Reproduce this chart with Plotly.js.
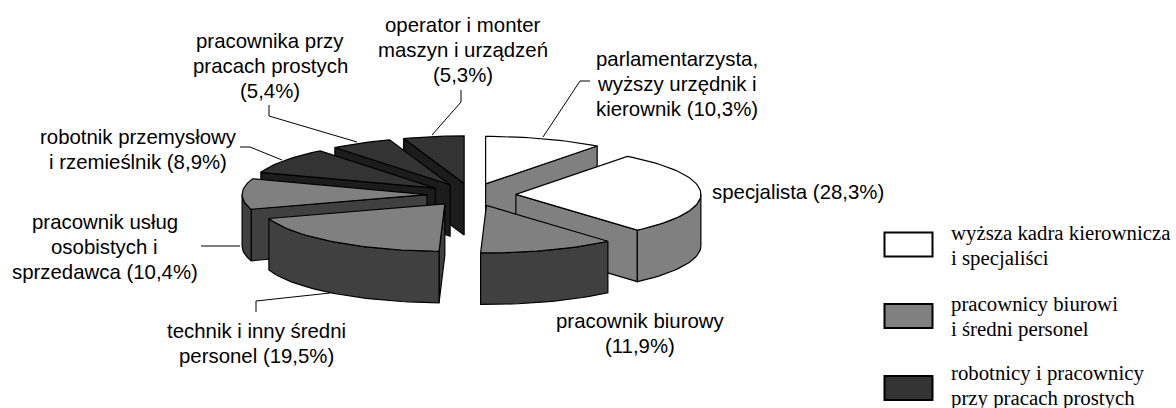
<!DOCTYPE html>
<html><head><meta charset="utf-8">
<script src="https://cdn.plot.ly/plotly-3.0.1.min.js"></script>
<style>html,body{margin:0;padding:0;background:#fff}#c{width:1176px;height:408px}</style>
</head><body><div id="c"></div>
<script>
// Data
const categories = ["parlamentarzysta, wyższy urzędnik i kierownik","specjalista","pracownik biurowy","technik i inny średni personel","pracownik usług osobistych i sprzedawca","robotnik przemysłowy i rzemieślnik","pracownika przy pracach prostych","operator i monter maszyn i urządzeń"];
const shares = [10.3,28.3,11.9,19.5,10.4,8.9,5.4,5.3];
const topColors  = ["#ffffff","#ffffff","#808080","#808080","#808080","#333333","#333333","#333333"];
const wallColors = ["#808080","#808080","#404040","#404040","#404040","#1c1c1c","#1c1c1c","#1c1c1c"];
const drawOrder = [7,6,5,4,3,0,1,2];
const labelLines = [["parlamentarzysta,","wyższy urzędnik i","kierownik (10,3%)"],["specjalista (28,3%)"],["pracownik biurowy","(11,9%)"],["technik i inny średni","personel (19,5%)"],["pracownik usług","osobistych i","sprzedawca (10,4%)"],["robotnik przemysłowy","i rzemieślnik (8,9%)"],["pracownika przy","pracach prostych","(5,4%)"],["operator i monter","maszyn i urządzeń","(5,3%)"]];
const labelX = [676.5,798,640,256.5,104.5,138,270,462.5];
const labelY = [84,192,333,343,247,149.5,65.5,49.5];
const leaderX = [[543,580,590],null,null,[256,256,330],[201,240],[240,250,282],[269,269,357],[461,461,432]];
const leaderY = [[137,81,81],null,null,[312,301,293],[246,246],[147,147,160],[105,116,142],[90,102,135]];
const legendLines = [["wyższa kadra kierownicza","i specjaliści"],["pracownicy biurowi","i średni personel"],["robotnicy i pracownicy","przy pracach prostych"]];
const legendColors = ["#ffffff","#808080","#333333"];
const legendY = [245,316,385];
const swatchY = [244.5,316,388];

// Pie projection
const cx=471.5, cy=194.7, a=185, b=47.5, depth=51.5, explode=0.24;
const px=(o,d)=>o.x+a*Math.sin(d*Math.PI/180);
const py=(o,d,h)=>o.y-b*Math.cos(d*Math.PI/180)+(h||0);
function arc(o,d0,d1,h){const xs=[],ys=[],n=Math.max(2,Math.ceil(Math.abs(d1-d0)/2));
  for(let i=0;i<=n;i++){const d=d0+(d1-d0)*i/n;xs.push(px(o,d));ys.push(py(o,d,h));}return [xs,ys];}
function poly(xs,ys,fill){return {type:'scatter',mode:'lines',x:xs.concat(xs[0]),y:ys.concat(ys[0]),fill:'toself',fillcolor:fill,line:{color:'#000',width:1.2},hoverinfo:'skip',showlegend:false};}

let start=0; const slices=shares.map(s=>{const d0=start,d1=start+s*3.6;start=d1;
  const m=(d0+d1)/2*Math.PI/180;
  return {d0,d1,o:{x:cx+explode*a*Math.sin(m),y:cy-explode*b*Math.cos(m)}};});

const traces=[];
drawOrder.forEach(i=>{const {d0,d1,o}=slices[i];
  const wall=wallColors[i];
  // radial walls that face the viewer
  const vis=[]; if(d0>180&&d0<360)vis.push(d0); if(d1>0&&d1<180)vis.push(d1);
  vis.forEach(d=>{
    traces.push(poly([o.x,px(o,d),px(o,d),o.x],[o.y,py(o,d),py(o,d,depth),o.y+depth],wall));
  });
  // outer wall: visible part of the rim
  const w0=Math.max(d0,90),w1=Math.min(d1,270);
  if(w1>w0){const [tx,ty]=arc(o,w0,w1,0),[bx,by]=arc(o,w1,w0,depth);
    traces.push(poly(tx.concat(bx),ty.concat(by),wall));}
  // top
  const [ax,ay]=arc(o,d0,d1,0);
  traces.push(poly([o.x].concat(ax),[o.y].concat(ay),topColors[i]));
});
leaderX.forEach((lx,i)=>{if(lx)traces.push({type:'scatter',mode:'lines',x:lx,y:leaderY[i],line:{color:'#000',width:1},hoverinfo:'skip',showlegend:false});});

const annotations=[];
labelLines.forEach((lines,i)=>lines.forEach((t,j)=>annotations.push({xref:'x',yref:'y',x:labelX[i],y:labelY[i]+(j-(lines.length-1)/2)*25,text:t,showarrow:false,xanchor:'center',yanchor:'middle',font:{family:'"Liberation Sans",Arial,sans-serif',size:20.4,color:'#000'}})));
legendLines.forEach((lines,i)=>lines.forEach((t,j)=>annotations.push({xref:'x',yref:'y',x:949,y:legendY[i]+(j-0.5)*25,text:t,showarrow:false,xanchor:'left',yanchor:'middle',font:{family:'"Liberation Serif","Times New Roman",serif',size:20.8,color:'#000'}})));
const shapes=legendColors.map((c,i)=>({type:'rect',xref:'x',yref:'y',x0:884.5,x1:932.5,y0:swatchY[i]-12,y1:swatchY[i]+12,fillcolor:c,line:{color:'#000',width:2}}));

Plotly.newPlot('c',traces,{width:1176,height:408,margin:{l:0,r:0,t:0,b:0},paper_bgcolor:'#fff',plot_bgcolor:'#fff',showlegend:false,
  xaxis:{range:[0,1176],visible:false,fixedrange:true},yaxis:{range:[408,0],visible:false,fixedrange:true},annotations,shapes},{staticPlot:true,displayModeBar:false});
</script></body></html>
